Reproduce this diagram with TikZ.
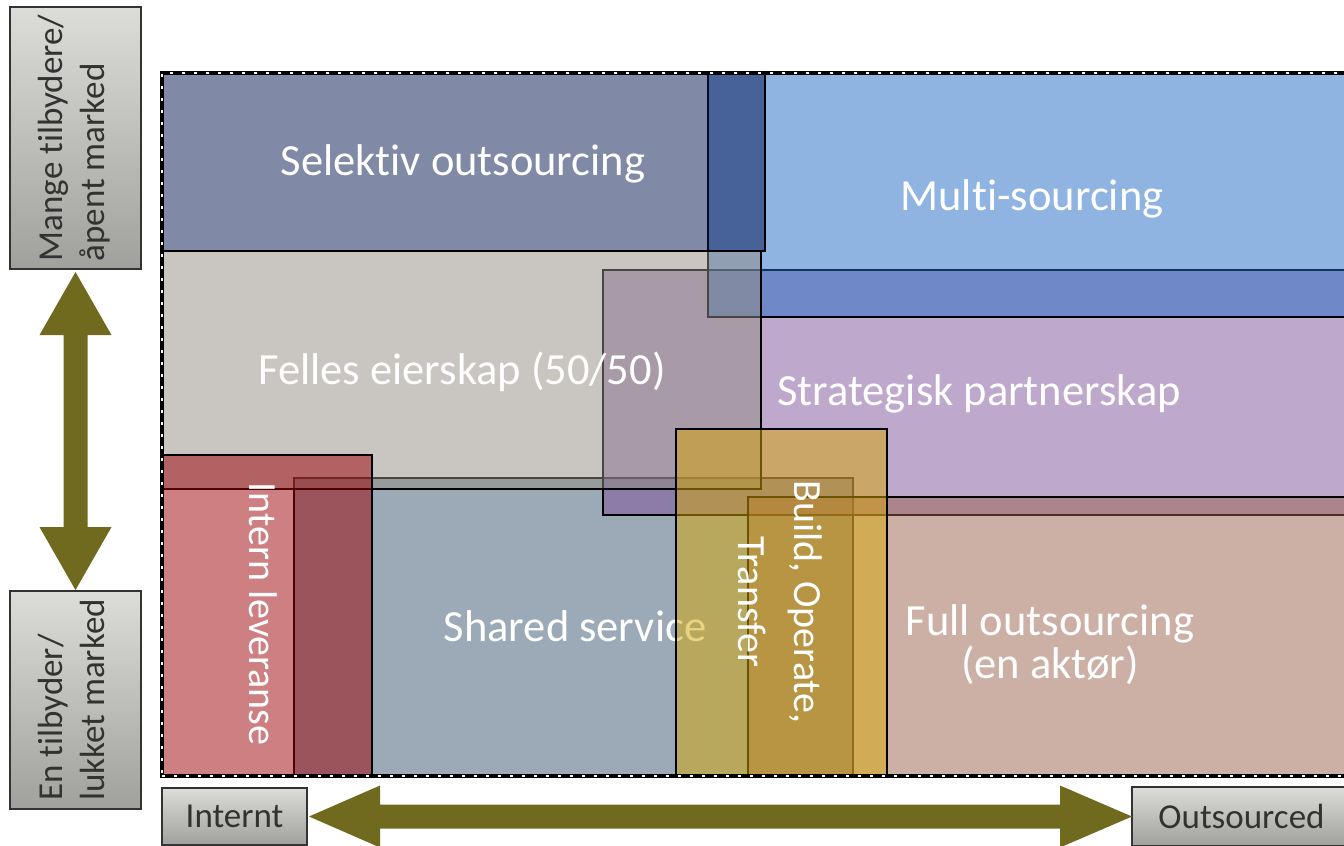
\documentclass[tikz,border=0pt]{standalone}
\usepackage{fontspec}
\setmainfont{Carlito}[Ligatures=NoCommon]
\usetikzlibrary{calc}
\definecolor{olivearrow}{RGB}{111,106,30}
\definecolor{cSel}{RGB}{1,19,77}
\definecolor{cMulti}{RGB}{31,105,197}
\definecolor{cFelles}{RGB}{147,141,131}
\definecolor{cStrat}{RGB}{125,81,153}
\definecolor{cIntern}{RGB}{157,0,5}
\definecolor{cShared}{RGB}{55,85,109}
\definecolor{cFull}{RGB}{155,97,75}
\definecolor{cBot}{RGB}{215,166,8}
\definecolor{sideTop}{RGB}{220,220,216}
\definecolor{sideBot}{RGB}{160,160,157}
\definecolor{sideText}{RGB}{50,50,50}
\tikzset{
  zone/.style={draw=black, line width=2pt, fill opacity=0.5, inner sep=0pt, outer sep=0pt, anchor=north west},
  ztext/.style={text=white, font=\fontsize{44.5}{43}\selectfont, inner sep=0pt},
  rtext/.style={text=white, font=\fontsize{40}{56}\selectfont, inner sep=0pt, rotate=-90},
  sidebox/.style={draw=black!80, line width=1.5pt, top color=sideTop, bottom color=sideBot, inner sep=0pt, outer sep=0pt, anchor=north west, text=sideText, font=\fontsize{35}{42}\selectfont},
  framebox/.style={draw=black, line width=3.5pt, inner sep=0pt, outer sep=0pt, anchor=north west, postaction={draw=white, line width=1.2pt, dash pattern=on 3pt off 9pt}},
  bigarrow/.style={fill=olivearrow, draw=none}
}
\begin{document}
\begin{tikzpicture}[x=1pt,y=-1pt]
\useasboundingbox (0,0) rectangle (1344,846);
\clip (0,0) rectangle (1344,846);
% zones
\node[zone, fill=cShared, minimum width=559pt, minimum height=298pt] (shared) at (294,478) {};
\node[ztext, anchor=base] (tShared) at (575,641) {Shared service};
\node[zone, fill=cStrat, minimum width=797pt, minimum height=245pt] (strat) at (603,270) {};
\node[zone, fill=cMulti, minimum width=692pt, minimum height=244pt] (multi) at (708,73) {};
\node[zone, fill=cFelles, minimum width=598pt, minimum height=238pt] (felles) at (163,251) {};
\node[ztext, anchor=base] (tFelles) at (462,384) {Felles eierskap (50/50)};
\node[zone, fill=cSel, minimum width=602pt, minimum height=178pt, line width=2.5pt] (selektiv) at (163,73) {};
\node[zone, fill=cIntern, minimum width=209pt, minimum height=321pt] (intern) at (163,455) {};
\node[zone, fill=cFull, minimum width=652pt, minimum height=279pt] (full) at (748,497) {};
\node[zone, fill=cBot, minimum width=211pt, minimum height=347pt] (bot) at (676,429) {};
% outer frame
\node[framebox, minimum width=1238pt, minimum height=703pt] (frame) at (162,73) {};
% zone texts
\node[ztext, anchor=base] (tSel) at (463,175) {Selektiv outsourcing};
\node[ztext, anchor=base] (tMulti) at (1032,210) {Multi-sourcing};
\node[ztext, anchor=base] (tStrat) at (979,405) {Strategisk partnerskap};
\node[ztext, align=center] (tFull) at (1050,645) {Full outsourcing\\(en aktør)};
\node[rtext] (tIntern) at (263,614) {Intern leveranse};
\node[rtext, align=center] (tBot) at (780,602) {Build, Operate,\\Transfer};
% side labels
\node[sidebox, minimum width=131pt, minimum height=262pt] (mange) at (10,7)
  {\rotatebox{90}{\begin{tabular}{@{}l@{}}Mange tilbydere/\\åpent marked\end{tabular}}};
\node[sidebox, minimum width=131pt, minimum height=218pt] (entilb) at (10,591)
  {\rotatebox{90}{\begin{tabular}{@{}l@{}}En tilbyder/\\lukket marked\end{tabular}}};
\node[sidebox, minimum width=145pt, minimum height=57pt] (internt) at (162,788) {Internt};
\node[sidebox, minimum width=219pt, minimum height=59pt] (outs) at (1132,787) {Outsourced};
% vertical double arrow
\coordinate (vt) at ($(mange.south)+(0,3)$);
\coordinate (vb) at ($(entilb.north)+(0,-1)$);
\fill[bigarrow] (vt) -- ($(vt)+(36,63)$) -- ($(vt)+(12,63)$) -- ($(vb)+(12,-63)$) -- ($(vb)+(36,-63)$) -- (vb)
  -- ($(vb)+(-36,-63)$) -- ($(vb)+(-12,-63)$) -- ($(vt)+(-12,63)$) -- ($(vt)+(-36,63)$) -- cycle;
% horizontal double arrow
\coordinate (hl) at ($(internt.east)+(2,0)$);
\coordinate (hr) at (outs.west);
\fill[bigarrow] (hl) -- ($(hl)+(71,-31)$) -- ($(hl)+(71,-12)$) -- ($(hr)+(-72,-12)$) -- ($(hr)+(-72,-31)$) -- (hr)
  -- ($(hr)+(-72,31)$) -- ($(hr)+(-72,12)$) -- ($(hl)+(71,12)$) -- ($(hl)+(71,31)$) -- cycle;
\end{tikzpicture}
\end{document}
